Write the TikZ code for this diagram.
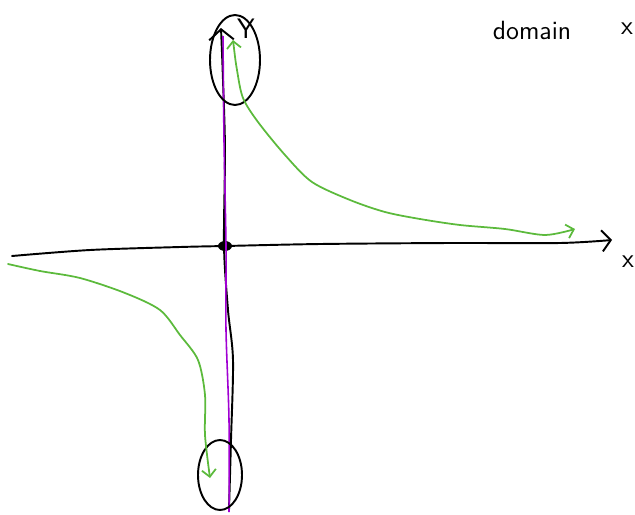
\documentclass[tikz,border=0pt]{standalone}
\usepackage{tikz}
\usetikzlibrary{arrows.meta,calc}

\definecolor{branchgreen}{RGB}{92,186,60}
\definecolor{asympurple}{RGB}{160,0,210}

\tikzset{
  axis/.style={draw=black, line width=1.1pt, line cap=round, line join=round},
  graph/.style={draw=branchgreen, line width=1pt, line cap=round},
  asym/.style={draw=asympurple, line width=0.9pt},
  ring/.style={draw=black, line width=1.1pt},
  hand/.style={font=\sffamily\fontsize{15}{17}\selectfont}
}

\begin{document}
\begin{tikzpicture}[x=0.02cm, y=-0.02cm]
  \useasboundingbox (0,0) rectangle (635,514);
  \coordinate (origin) at (225,246);
  \coordinate (xend) at (612,240);
  \coordinate (yend) at (221,28);

  % axes
  \draw[axis, -{Straight Barb[length=5pt, width=12pt]}] plot[smooth] coordinates
    {(12,256) (90,250) (180,247) (origin) (320,244) (450,243) (560,243) (xend)};
  \draw[axis, -{Straight Barb[length=6pt, width=14pt]}] plot[smooth] coordinates
    {(229,510) (231,440) (233,360) (228,310) (224,246) (225,150) (223,80) (yend)};
  \fill[black] (origin) ellipse (7 and 5);
  \node[hand] (xlab) at (628,262) {x};
  \node[hand, font=\sffamily\fontsize{16}{18}\selectfont] (ylab) at (246,29) {Y};

  % asymptote
  \draw[asym] plot[smooth] coordinates
    {(229,512) (229,420) (226,330) (226,246) (224,140) (223,36)};

  % circled ends
  \draw[ring] (235,60) ellipse (25 and 45);
  \draw[ring] (220,475) ellipse (22 and 35);

  % the two branches
  \draw[graph, {Straight Barb[length=4pt, width=8pt]}-{Straight Barb[length=4pt, width=8pt]}]
    plot[smooth] coordinates
    {(233,40) (237,70) (243,98) (258,122) (285,155) (312,182) (350,200) (385,212)
     (420,219) (460,225) (505,229) (545,235) (575,229)};
  \draw[graph, -{Straight Barb[length=4pt, width=8pt]}] plot[smooth] coordinates
    {(8,264) (40,271) (80,278) (125,293) (160,310) (180,335) (198,360)
     (205,395) (205,435) (210,478)};

  % text
  \node[hand] (dom) at (532,30) {domain};
  \node[hand] (dx) at (627,29) {x};
\end{tikzpicture}
\end{document}
